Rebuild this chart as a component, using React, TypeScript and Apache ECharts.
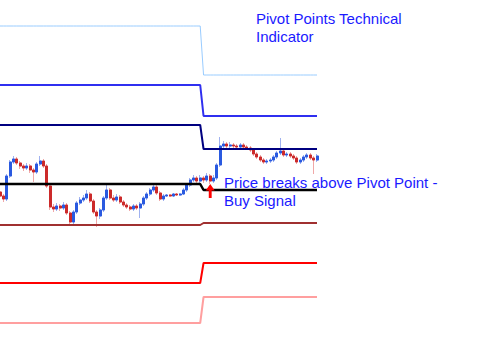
import React, { useEffect, useRef } from "react";
import * as echarts from "echarts";

// ---- Data ----
const opens = [
  1.3348, 1.3344, 1.3341, 1.3364, 1.3378, 1.3381, 1.3377, 1.3374, 1.3372, 1.3374,
  1.3370, 1.3368, 1.3376, 1.3379, 1.3374, 1.3354, 1.3333, 1.3331, 1.3334, 1.3332,
  1.3335, 1.3327, 1.3318, 1.3328, 1.3337, 1.3340, 1.3342, 1.3346, 1.3339, 1.3328,
  1.3324, 1.3330, 1.3342, 1.3350, 1.3342, 1.3340, 1.3343, 1.3338, 1.3335, 1.3333,
  1.3331, 1.3334, 1.3332, 1.3336, 1.3342, 1.3346, 1.3350, 1.3353, 1.3347, 1.3341,
  1.3344, 1.3345, 1.3344, 1.3346, 1.3345, 1.3346, 1.3350, 1.3355, 1.3360, 1.3362,
  1.3359, 1.3362, 1.3360, 1.3364, 1.3359, 1.3362, 1.3375, 1.3394, 1.3396, 1.3394,
  1.3395, 1.3394, 1.3393, 1.3395, 1.3393, 1.3392, 1.3390, 1.3386, 1.3383, 1.3380,
  1.3378, 1.3379, 1.3380, 1.3383, 1.3387, 1.3389, 1.3385, 1.3386, 1.3384, 1.3382,
  1.3378, 1.3380, 1.3383, 1.3385, 1.3382, 1.3380,
];
const closes = [
  1.3344, 1.3341, 1.3364, 1.3378, 1.3381, 1.3377, 1.3374, 1.3372, 1.3374, 1.3370,
  1.3368, 1.3376, 1.3379, 1.3374, 1.3354, 1.3333, 1.3331, 1.3334, 1.3332, 1.3335,
  1.3327, 1.3318, 1.3328, 1.3337, 1.3340, 1.3342, 1.3346, 1.3339, 1.3328, 1.3324,
  1.3330, 1.3342, 1.3350, 1.3342, 1.3340, 1.3343, 1.3338, 1.3335, 1.3333, 1.3331,
  1.3334, 1.3332, 1.3336, 1.3342, 1.3346, 1.3350, 1.3353, 1.3347, 1.3341, 1.3344,
  1.3345, 1.3344, 1.3346, 1.3345, 1.3346, 1.3350, 1.3355, 1.3360, 1.3362, 1.3359,
  1.3362, 1.3360, 1.3364, 1.3359, 1.3362, 1.3375, 1.3394, 1.3396, 1.3394, 1.3395,
  1.3394, 1.3393, 1.3395, 1.3393, 1.3392, 1.3390, 1.3386, 1.3383, 1.3380, 1.3378,
  1.3379, 1.3380, 1.3383, 1.3387, 1.3389, 1.3385, 1.3386, 1.3384, 1.3382, 1.3378,
  1.3380, 1.3383, 1.3385, 1.3382, 1.3380, 1.3384,
];
const highs = [
  1.3350, 1.3346, 1.3366, 1.3380, 1.3384, 1.3383, 1.3379, 1.3376, 1.3377, 1.3376,
  1.3372, 1.3378, 1.3384, 1.3381, 1.3376, 1.3356, 1.3336, 1.3337, 1.3336, 1.3338,
  1.3337, 1.3329, 1.3330, 1.3339, 1.3343, 1.3345, 1.3350, 1.3348, 1.3341, 1.3330,
  1.3332, 1.3344, 1.3356, 1.3352, 1.3345, 1.3346, 1.3345, 1.3340, 1.3337, 1.3335,
  1.3336, 1.3336, 1.3338, 1.3344, 1.3348, 1.3352, 1.3357, 1.3355, 1.3349, 1.3346,
  1.3346, 1.3346, 1.3347, 1.3347, 1.3347, 1.3352, 1.3357, 1.3362, 1.3365, 1.3364,
  1.3365, 1.3364, 1.3367, 1.3366, 1.3365, 1.3377, 1.3403, 1.3399, 1.3398, 1.3398,
  1.3397, 1.3396, 1.3397, 1.3397, 1.3395, 1.3394, 1.3392, 1.3388, 1.3385, 1.3382,
  1.3381, 1.3382, 1.3385, 1.3389, 1.3402, 1.3391, 1.3388, 1.3388, 1.3386, 1.3384,
  1.3382, 1.3385, 1.3387, 1.3387, 1.3384, 1.3386,
];
const lows = [
  1.3342, 1.3338, 1.3339, 1.3362, 1.3376, 1.3375, 1.3371, 1.3369, 1.3370, 1.3367,
  1.3358, 1.3366, 1.3374, 1.3372, 1.3352, 1.3330, 1.3328, 1.3329, 1.3329, 1.3330,
  1.3325, 1.3316, 1.3316, 1.3326, 1.3335, 1.3338, 1.3340, 1.3337, 1.3326, 1.3313,
  1.3321, 1.3328, 1.3340, 1.3340, 1.3338, 1.3338, 1.3336, 1.3333, 1.3331, 1.3329,
  1.3329, 1.3330, 1.3322, 1.3334, 1.3340, 1.3344, 1.3348, 1.3345, 1.3339, 1.3339,
  1.3343, 1.3343, 1.3343, 1.3344, 1.3344, 1.3345, 1.3348, 1.3353, 1.3358, 1.3357,
  1.3357, 1.3357, 1.3358, 1.3356, 1.3357, 1.3360, 1.3373, 1.3392, 1.3392, 1.3392,
  1.3392, 1.3391, 1.3391, 1.3391, 1.3390, 1.3388, 1.3384, 1.3381, 1.3378, 1.3376,
  1.3376, 1.3377, 1.3378, 1.3381, 1.3385, 1.3383, 1.3383, 1.3382, 1.3380, 1.3376,
  1.3376, 1.3378, 1.3381, 1.3380, 1.3366, 1.3378,
];

// Pivot levels: previous session / current session
const levelNames = ["R3", "R2", "R1", "PP", "S1", "S2", "S3"];
const levelsBefore = [1.3514, 1.3455, 1.3415, 1.3356, 1.3315, 1.3257, 1.3217];
const levelsAfter = [1.3465, 1.3424, 1.3391, 1.3350, 1.3317, 1.3277, 1.3243];
const sessionStartIndex = 61;
const levelColors = ["#99ccff", "#2f2ff0", "#000080", "#000000", "#a03030", "#ff0000", "#ff9f9f"];
const levelWidths = [1, 2, 2, 2.5, 2, 2, 2];

const signalIndex = 63;
const signalPrice = 1.3349;

const titleText = "Pivot Points Technical\nIndicator";
const signalText = "Price breaks above Pivot Point -\nBuy Signal";

export default function App() {
  const ref = useRef<HTMLDivElement>(null);
  useEffect(() => {
    if (!ref.current) return;
    const chart = echarts.init(ref.current, undefined, { renderer: "svg" });
    const cats = closes.map((_, i) => String(i));
    const ohlc = closes.map((c, i) => [opens[i], c, lows[i], highs[i]]);
    const bodies = closes.map((c, i) => [opens[i], c, Math.min(opens[i], c), Math.max(opens[i], c)]);
    const font = "'Liberation Sans', Arial, sans-serif";

    const lineSeries = levelNames.map((name, k) => ({
      name,
      type: "line",
      data: cats.map((_, i) => (i < sessionStartIndex ? levelsBefore[k] : levelsAfter[k])),
      showSymbol: false,
      symbol: "none",
      z: 4,
      clip: false,
      lineStyle: { color: levelColors[k], width: levelWidths[k] },
      silent: true,
    }));

    chart.setOption({
      animation: false,
      backgroundColor: "#ffffff",
      grid: { left: 0, top: 0, width: 317, height: 354, containLabel: false },
      xAxis: { type: "category", data: cats, show: false, boundaryGap: false },
      yAxis: { type: "value", min: 1.3186, max: 1.354, show: false, splitLine: { show: false } },
      series: [
        {
          name: "wicks",
          type: "candlestick",
          data: ohlc,
          barWidth: 2.5,
          z: 2,
          itemStyle: {
            color: "#a0b2f0",
            color0: "#f0a8a8",
            borderColor: "#a0b2f0",
            borderColor0: "#f0a8a8",
            borderWidth: 1,
          },
          markPoint: {
            symbol: "path://M5,0 L10,6 L6.6,6 L6.6,13 L3.4,13 L3.4,6 L0,6 Z",
            symbolSize: [9, 14],
            label: { show: false },
            itemStyle: { color: "#ff0000" },
            data: [{ coord: [String(signalIndex), signalPrice] }],
            z: 6,
          },
        },
        {
          name: "bodies",
          type: "candlestick",
          data: bodies,
          barWidth: 2.5,
          z: 3,
          itemStyle: {
            color: "#2a5ae0",
            color0: "#cc2a2a",
            borderColor: "#2a5ae0",
            borderColor0: "#cc2a2a",
            borderWidth: 1,
          },
        },
        ...lineSeries,
      ],
      graphic: [
        {
          type: "text",
          left: 256,
          top: 9,
          z: 10,
          style: { text: titleText, fill: "#1a1aff", font: `15px ${font}`, lineHeight: 18 },
        },
        {
          type: "text",
          left: 224,
          top: 174,
          z: 10,
          style: { text: signalText, fill: "#1a1aff", font: `15px ${font}`, lineHeight: 17.5 },
        },
      ],
    });
    return () => chart.dispose();
  }, []);
  return (
    <div
      ref={ref}
      style={{ position: "fixed", left: 0, top: 0, width: 493, height: 354, background: "#fff" }}
    />
  );
}
